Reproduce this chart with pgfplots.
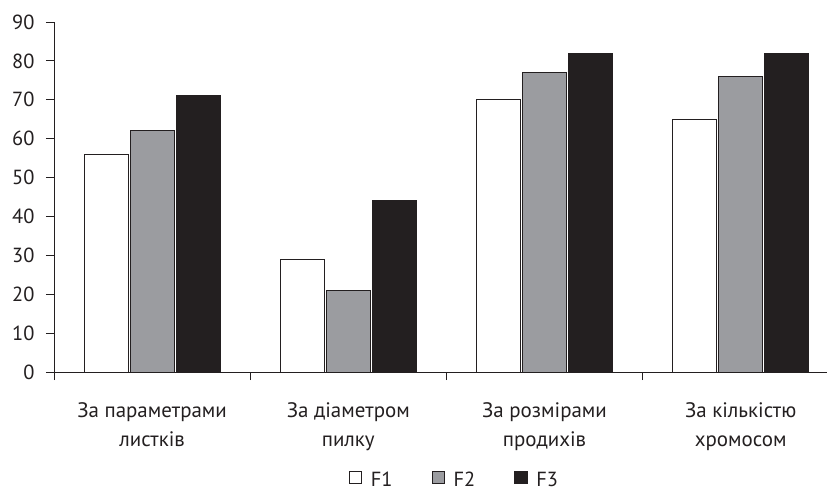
\documentclass[border=0pt]{standalone}
\usepackage{pgfplots}
\pgfplotsset{compat=1.18}
\usepackage{fontspec}
\setmainfont{PT Sans}
\definecolor{ink}{HTML}{231F20}
\definecolor{midgray}{HTML}{9B9CA0}

\begin{document}
\begin{tikzpicture}
\begin{axis}[
  scale only axis,
  width=773bp, height=350bp,
  ybar, bar width=0.224,
  xmin=-0.5, xmax=3.44,
  ymin=0, ymax=90,
  ytick={0,10,...,90},
  xtick={-0.5,0.5,1.5,2.5},
  xticklabels={},
  extra x ticks={0,1,2,3},
  extra x tick labels={За параметрами\\листків, За діаметром\\пилку, За розмірами\\продихів, За кількістю\\хромосом},
  extra x tick style={major tick length=0pt,
    tick label style={align=center, font=\fontsize{21}{29}\selectfont, text=ink, yshift=-27bp}},
  axis x line=bottom, axis y line=left,
  axis line style={-, ink, line width=0.8pt},
  tick style={ink, line width=0.8pt},
  tick align=outside, major tick length=8bp,
  yticklabel style={font=\fontsize{20.5}{24}\selectfont, text=ink, xshift=-8bp},
  /pgf/number format/assume math mode=true,
  legend style={at={(0.518,-0.279)}, anchor=north, draw=none, legend columns=-1,
    inner sep=0pt,
    font=\fontsize{20.5}{24}\selectfont, text=ink,
    /tikz/every odd column/.append style={column sep=7bp},
    /tikz/every even column/.append style={column sep=37bp}},
  legend image code/.code={\draw[#1, line width=0.6pt] (0bp,-3.5bp) rectangle (12.5bp,9bp);},
  clip=false,
]
\addplot[draw=ink, fill=white, line width=0.8pt] coordinates {(0,56) (1,29) (2,70) (3,65)};
\addplot[draw=ink, fill=midgray, line width=0.8pt] coordinates {(0,62) (1,21) (2,77) (3,76)};
\addplot[draw=ink, fill=ink, line width=0.8pt] coordinates {(0,71) (1,44) (2,82) (3,82)};
\legend{F1, F2, F3}
\end{axis}
\pgfresetboundingbox
\path[use as bounding box] (-54bp,-121bp) rectangle (773bp,372bp);
\end{tikzpicture}
\end{document}
